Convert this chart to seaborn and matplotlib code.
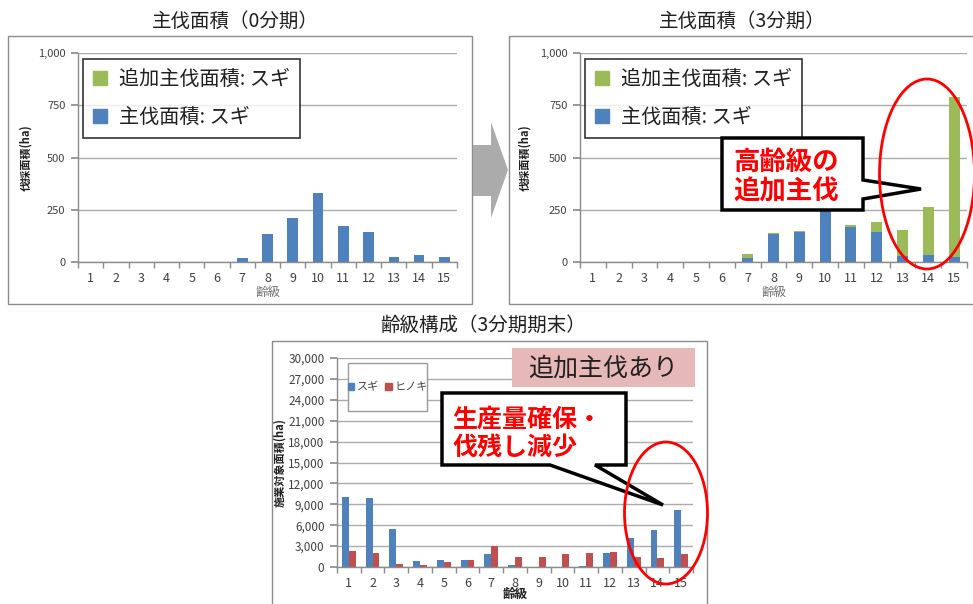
import numpy as np
import pandas as pd
import seaborn as sns
import matplotlib.pyplot as plt
from matplotlib.patches import Rectangle, Polygon, Ellipse, Patch
from matplotlib.ticker import FuncFormatter, FixedLocator

sns.set_theme(style="white")
plt.rcParams["font.family"] = ["Noto Sans CJK JP", "DejaVu Sans"]

# data
ages = [str(i) for i in range(1, 16)]
cut_p0_sugi = [0, 0, 0, 0, 0, 0, 18, 133, 210, 328, 170, 143, 25, 32, 22]
cut_p0_extra = [0, 0, 0, 0, 0, 0, 0, 0, 0, 0, 0, 0, 0, 0, 0]
cut_p3_sugi = [0, 0, 0, 0, 0, 0, 18, 133, 145, 310, 168, 143, 27, 33, 22]
cut_p3_extra = [0, 0, 0, 0, 0, 0, 22, 4, 2, 10, 7, 47, 128, 229, 768]
area_sugi = [10000, 9900, 5400, 900, 1000, 950, 1800, 300, 0, 0, 200, 2050, 4200, 5300, 8200]
area_hinoki = [2300, 2000, 500, 250, 650, 1050, 2950, 1450, 1400, 1800, 2000, 2150, 1450, 1300, 1900]

BLUE = "#4F81BD"
GREEN = "#9BBB59"
RED = "#C0504D"
GRID = "#ABABAB"
TXT = "#404040"

W, H = 973, 604
fig = plt.figure(figsize=(W / 100, H / 100), dpi=100)


def px_axes(x0, y0, x1, y1):
    return fig.add_axes([x0 / W, 1 - y1 / H, (x1 - x0) / W, (y1 - y0) / H])


def style_axes(ax, ymax, step, fs):
    ax.set_xlim(-0.5, 14.5)
    ax.set_ylim(0, ymax)
    ax.set_yticks(np.arange(0, ymax + 1, step))
    ax.yaxis.set_major_formatter(FuncFormatter(lambda v, p: f"{int(v):,}"))
    ax.grid(axis="y", color=GRID, lw=1)
    ax.set_axisbelow(True)
    for s in ["top", "right"]:
        ax.spines[s].set_visible(False)
    for s in ["left", "bottom"]:
        ax.spines[s].set_color("#8C8C8C")
        ax.spines[s].set_linewidth(1)
    ax.tick_params(axis="y", left=True, length=5, color="#8C8C8C", labelsize=fs,
                   labelcolor=TXT, pad=4)
    ax.tick_params(axis="x", bottom=False, labelsize=9, labelcolor=TXT, pad=1)
    ax.xaxis.set_minor_locator(FixedLocator(np.arange(-0.5, 15, 1)))
    ax.tick_params(axis="x", which="minor", bottom=True, length=4, color="#8C8C8C")


def cut_chart(ax, sugi, extra):
    total = [a + b for a, b in zip(sugi, extra)]
    df = pd.DataFrame({"age": ages, "total": total, "sugi": sugi})
    sns.barplot(data=df, x="age", y="total", order=ages, color=GREEN,
                width=0.42, saturation=1, linewidth=0, ax=ax)
    sns.barplot(data=df, x="age", y="sugi", order=ages, color=BLUE,
                width=0.42, saturation=1, linewidth=0, ax=ax)
    style_axes(ax, 1000, 250, 8)
    ax.set_xlabel("齢級", fontsize=9, color="#707070")
    ax.xaxis.set_label_coords(0.5, -0.115)
    ax.set_ylabel("伐採面積(ha)", fontsize=8, color="#202020", fontweight="bold")
    handles = [Patch(color=GREEN, label="追加主伐面積: スギ"),
               Patch(color=BLUE, label="主伐面積: スギ")]
    leg = ax.legend(handles=handles, loc="upper left", bbox_to_anchor=(0.013, 0.972),
                    borderaxespad=0, fontsize=14.5, frameon=True, fancybox=False,
                    edgecolor="black", handlelength=0.7, handleheight=0.7,
                    handletextpad=0.6, labelspacing=0.85, borderpad=0.5)
    leg.get_frame().set_linewidth(1.2)
    for t in leg.get_texts():
        t.set_color("#202020")


ax1 = px_axes(78, 53, 457, 262)
cut_chart(ax1, cut_p0_sugi, cut_p0_extra)
ax1.yaxis.set_label_coords(-0.121, 0.5)

ax2 = px_axes(580, 53, 967, 262)
cut_chart(ax2, cut_p3_sugi, cut_p3_extra)
ax2.yaxis.set_label_coords(-0.127, 0.5)

# age structure chart
ax3 = px_axes(337, 358, 693, 567)
df3 = pd.DataFrame({"age": ages * 2,
                    "area": area_sugi + area_hinoki,
                    "species": ["スギ"] * 15 + ["ヒノキ"] * 15})
sns.barplot(data=df3, x="age", y="area", hue="species", order=ages,
            hue_order=["スギ", "ヒノキ"], palette=[BLUE, RED], width=0.58,
            saturation=1, linewidth=0, ax=ax3, legend=False)
style_axes(ax3, 30000, 3000, 8.5)
ax3.set_xlabel("齢級", fontsize=9, color="#202020", fontweight="bold")
ax3.xaxis.set_label_coords(0.5, -0.1)
ax3.set_ylabel("施業対象面積(ha)", fontsize=8, color="#202020", fontweight="bold")
ax3.yaxis.set_label_coords(-0.142, 0.5)
ax3.add_patch(Rectangle((0.031, 0.746), 0.222, 0.23, transform=ax3.transAxes,
                        fc="white", ec="#9A9A9A", lw=1, zorder=4))
leg3 = ax3.legend(handles=[Patch(color=BLUE, label="スギ"), Patch(color=RED, label="ヒノキ")],
                  loc="center", bbox_to_anchor=(0.142, 0.861), borderaxespad=0,
                  ncol=2, fontsize=8, frameon=False,
                  handlelength=0.6, handleheight=0.6, handletextpad=0.2,
                  columnspacing=0.6, borderpad=0.2)
leg3.set_zorder(5)
for t in leg3.get_texts():
    t.set_color(TXT)

# overlay for frames, titles and call-outs
ov = fig.add_axes([0, 0, 1, 1], zorder=10)
ov.set_xlim(0, W)
ov.set_ylim(H, 0)
ov.axis("off")
ov.patch.set_alpha(0)

for (x, y, w, h) in [(8, 36, 464, 268), (509, 36, 470, 268), (272, 341, 435, 270)]:
    ov.add_patch(Rectangle((x, y), w, h, fill=False, ec="#8C8C8C", lw=1))

ov.text(235, 21, "主伐面積（0分期）", ha="center", va="center", fontsize=14, color="#202020")
ov.text(742, 21, "主伐面積（3分期）", ha="center", va="center", fontsize=14, color="#202020")
ov.text(483, 325, "齢級構成（3分期期末）", ha="center", va="center", fontsize=14, color="#202020")

# big gray arrow
ov.add_patch(Polygon([(473, 145), (491, 145), (491, 122), (508, 170), (491, 218),
                      (491, 196), (473, 196)], closed=True, fc="#ABABAB", ec="none"))

# call-out 1
ov.add_patch(Polygon([(722, 138), (863, 138), (863, 180), (921, 189), (863, 199),
                      (863, 210), (722, 210)], closed=True, fc="white", ec="black", lw=2.5))
ov.text(733, 162, "高齢級の", ha="left", va="center", fontsize=19, color="#FF0000",
        fontweight="bold")
ov.text(733, 192, "追加主伐", ha="left", va="center", fontsize=19, color="#FF0000",
        fontweight="bold")
ov.add_patch(Ellipse((927, 174), 95, 190, fill=False, ec="#FF0000", lw=2))

# pink label
ov.add_patch(Rectangle((512, 348), 183, 39, fc="#E6B9B8", ec="none"))
ov.text(603, 369, "追加主伐あり", ha="center", va="center", fontsize=18, color="#202020")

# call-out 2
ov.add_patch(Polygon([(442, 393), (626, 393), (626, 465), (595, 465), (663, 505),
                      (550, 465), (442, 465)], closed=True, fc="white", ec="black", lw=2.5))
ov.text(452, 420, "生産量確保・", ha="left", va="center", fontsize=18, color="#FF0000",
        fontweight="bold")
ov.text(452, 448, "伐残し減少", ha="left", va="center", fontsize=18, color="#FF0000",
        fontweight="bold")
ov.add_patch(Ellipse((666, 513), 83, 142, fill=False, ec="#FF0000", lw=2))

fig.savefig("out.png", dpi=100)
